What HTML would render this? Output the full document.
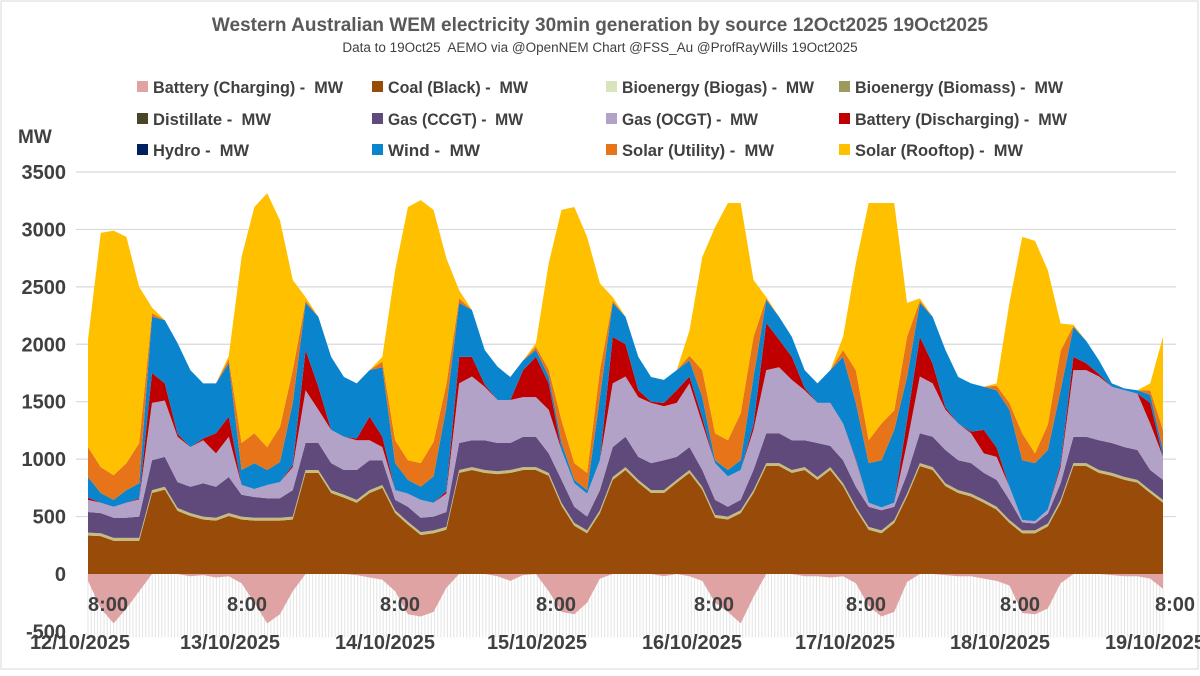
<!DOCTYPE html>
<html><head><meta charset="utf-8"><style>
body{margin:0;background:#fff;}
svg text{font-family:"Liberation Sans",sans-serif;font-weight:bold;fill:#404040;white-space:pre;}
</style></head><body>
<svg id="chart" width="1200" height="671" viewBox="0 0 1200 671" xmlns="http://www.w3.org/2000/svg" xml:space="preserve">
<rect x="0" y="0" width="1200" height="671" fill="#fff"/>
<rect x="1" y="1" width="1197" height="668" fill="none" stroke="#d9d9d9"/>
<text x="600" y="31" text-anchor="middle" font-size="19" style="fill:#595959">Western Australian WEM electricity 30min generation by source 12Oct2025 19Oct2025</text>
<text x="600" y="52" text-anchor="middle" font-size="13.5" style="font-weight:normal;fill:#404040">Data to 19Oct25  AEMO via @OpenNEM Chart @FSS_Au @ProfRayWills 19Oct2025</text>
<text x="18" y="143" font-size="19">MW</text>
<g id="grid"></g>
<g id="areas"></g>
<g id="legend"></g>
<g id="xaxis"></g>
</svg>
<script>
const yTicks = [3500,3000,2500,2000,1500,1000,500,0,-500];
const dateLabels = ["12/10/2025","13/10/2025","14/10/2025","15/10/2025","16/10/2025","17/10/2025","18/10/2025","19/10/2025"];
// 2-hourly samples starting 8:00 12/10/2025
const coal = [335,330,290,290,290,705,735,550,505,475,465,505,
475,465,465,465,475,880,880,705,665,620,705,750,
530,430,340,355,385,880,905,880,870,880,905,905,
855,595,420,355,530,820,905,795,705,705,795,880,
735,490,475,530,705,940,940,880,905,820,905,765,
560,385,355,445,675,940,905,765,705,675,620,560,
445,355,355,415,620,940,940,880,855,820,795,705,620];
const bioenergy = new Array(85).fill(25);
const gasCCGT = [180,175,175,175,185,260,260,225,230,290,270,315,
190,180,170,170,230,235,235,235,215,260,260,215,
90,130,125,120,130,235,235,260,245,235,265,265,
170,200,140,120,175,260,265,200,235,260,200,200,
145,130,85,90,175,260,260,260,235,295,185,200,
175,175,175,115,170,260,265,290,260,265,235,235,
175,70,60,85,145,230,230,260,260,260,260,175,175];
const gasOCGT = [105,90,95,130,150,500,490,395,345,375,290,350,
85,70,115,140,200,460,290,290,290,260,175,115,
85,115,155,120,160,520,555,465,375,375,345,345,
380,260,205,200,260,555,525,520,525,470,470,555,
405,320,265,260,350,550,575,525,435,350,375,320,
230,35,25,35,270,495,465,350,320,260,170,200,
115,20,20,35,140,580,580,555,490,495,490,405,200];
const batteryDischarging = [20,0,0,0,10,260,150,25,0,15,175,175,
0,0,0,0,20,350,200,0,0,15,205,90,
0,0,0,0,20,230,170,20,0,0,235,350,
230,0,0,0,0,405,280,60,10,30,110,60,
50,0,0,0,45,410,240,200,20,0,0,0,
10,0,0,0,200,345,170,20,0,15,205,80,
0,0,0,0,30,115,60,20,0,0,0,180,0];
const hydro = new Array(85).fill(0);
const wind = [180,85,60,110,130,490,550,790,670,480,435,465,
130,225,130,175,540,410,610,635,520,480,405,605,
235,120,115,230,730,470,410,300,290,200,85,60,
60,60,30,30,550,295,240,290,215,200,175,140,
180,25,55,85,415,200,200,175,155,170,285,580,
490,345,410,635,375,295,410,500,405,420,375,500,
670,520,505,520,640,260,195,120,30,15,30,70,60];
const solarUtility = [260,225,215,235,350,30,0,0,0,0,0,35,
235,260,200,305,285,20,0,0,0,0,0,50,
200,170,205,300,200,40,0,0,0,0,0,30,
60,200,145,150,235,20,0,0,0,0,0,40,
235,235,260,410,350,15,0,0,0,0,0,60,
285,200,320,170,350,20,0,0,0,0,0,40,
60,235,85,220,345,10,0,0,0,0,0,40,175];
const solarRooftop = [935,2040,2130,1970,1360,50,0,0,0,0,0,30,
1620,1970,2210,1800,785,30,0,0,0,0,0,40,
1480,2205,2290,2020,1100,70,0,0,0,0,0,30,
925,1830,2230,2055,755,30,0,0,0,0,0,220,
985,1795,2065,1830,495,10,0,0,0,0,0,115,
930,2065,1920,1805,295,20,0,0,0,0,0,20,
870,1710,1850,1345,235,10,0,0,0,0,0,60,810];
const batteryCharging = [-60,-300,-430,-300,-150,0,0,0,-20,-10,-30,-20,
-80,-250,-430,-350,-150,0,0,0,0,-10,-30,-50,
-150,-350,-370,-330,-120,0,0,0,-20,-60,-10,0,
-150,-330,-350,-250,-40,0,0,0,0,-20,0,-20,
-60,-250,-330,-430,-200,0,0,0,-20,-20,-30,-20,
-80,-280,-370,-330,-70,0,0,-10,-20,-20,-40,-60,
-100,-340,-350,-300,-80,0,0,0,-10,-20,-20,-40,-130];

const NS="http://www.w3.org/2000/svg";
const X0=88, X1=1163, Y0=574, PXMW=57.43/500;
const N=coal.length;
const xs=i=>X0+(X1-X0)*i/(N-1);
const ys=v=>Y0-v*PXMW;
function mk(tag,attrs,parent){const e=document.createElementNS(NS,tag);for(const k in attrs)e.setAttribute(k,attrs[k]);parent.appendChild(e);return e;}
const grid=document.getElementById('grid');
yTicks.forEach(t=>{
  if(t!==0&&t>-500){const l=mk('line',{x1:76,x2:1176,y1:ys(t),y2:ys(t),stroke:'#d9d9d9','stroke-width':1.2},grid);
  
  }
  const tx=mk('text',{x:66,y:ys(t)+7,'text-anchor':'end','font-size':20},grid);
  tx.textContent=t;
  
  
});
for(let i=0;i<336;i++){const x=X0+(X1-X0)*i/335;
  const l=mk('line',{x1:x,x2:x,y1:Y0,y2:ys(-500)+6,stroke:'#e4e4e4','stroke-width':1},grid);
  
  }
const series=[
 ['coal',coal,'#994C0A'],['bioenergy',bioenergy,'#C4BD7F'],['gas-ccgt',gasCCGT,'#604A7B'],['gas-ocgt',gasOCGT,'#B3A2C7'],
 ['battery-discharging',batteryDischarging,'#C00000'],['hydro',hydro,'#002060'],['wind',wind,'#0B84CE'],['solar-utility',solarUtility,'#E8741A'],['solar-rooftop',solarRooftop,'#FFC000']];
const areas=document.getElementById('areas');
let base=new Array(N).fill(0);
series.forEach(([name,vals,col])=>{
  const top=base.map((b,i)=>b+vals[i]);
  let d='M'+xs(0)+','+ys(top[0]);
  for(let i=1;i<N;i++)d+=' L'+xs(i)+','+ys(top[i]);
  for(let i=N-1;i>=0;i--)d+=' L'+xs(i)+','+ys(base[i]);
  const p=mk('path',{d:d+'Z',fill:col},areas);
  
  
  base=top;
});
{let d='M'+xs(0)+','+Y0;for(let i=0;i<N;i++)d+=' L'+xs(i)+','+ys(batteryCharging[i]);d+=' L'+xs(N-1)+','+Y0+'Z';
 const p=mk('path',{d:d,fill:'#DFA3A3'},areas);
 
 }
const leg=[['Battery (Charging) -  MW','#DFA3A3',190],['Coal (Black) -  MW','#994C0A',140],['Bioenergy (Biogas) -  MW','#D7E4BD',192],['Bioenergy (Biomass) -  MW','#9C9A5E',208],
['Distillate -  MW','#4A4528',118],['Gas (CCGT) -  MW','#604A7B',135],['Gas (OCGT) -  MW','#B3A2C7',136],['Battery (Discharging) -  MW','#C00000',212],
['Hydro -  MW','#002060',96],['Wind -  MW','#0B84CE',92],['Solar (Utility) -  MW','#E8741A',152],['Solar (Rooftop) -  MW','#FFC000',168]];
const colsX=[137,372,606,839], rowsY=[86,118,149];
const lg=document.getElementById('legend');
leg.forEach(([t,c,w],k)=>{const cx=colsX[k%4],cy=rowsY[Math.floor(k/4)];
  const g=mk('g',{},lg);
  
  
  mk('rect',{x:cx,y:cy-5,width:11,height:11,fill:c},g);
  const tx=mk('text',{x:cx+16,y:cy+7,'font-size':17,textLength:w,lengthAdjust:'spacingAndGlyphs'},g);tx.textContent=t;});
const xa=document.getElementById('xaxis');
const timeLabelX=[108,247,400,556,714,866,1020,1175];
const dateLabelX=[80,230,385,537,692,845,1000,1155];
for(let k=0;k<8;k++){
  const t=mk('text',{x:timeLabelX[k],y:611,'text-anchor':'middle','font-size':20},xa);t.textContent='8:00';
  
  
  const d=mk('text',{x:dateLabelX[k],y:649,'text-anchor':'middle','font-size':20},xa);d.textContent=dateLabels[k];
  
  
}
</script>
</body></html>
